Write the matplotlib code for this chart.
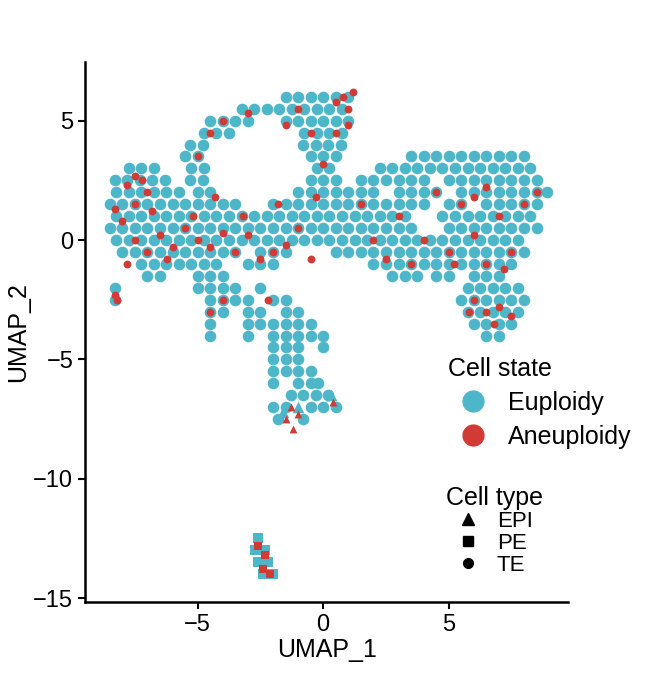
import matplotlib
matplotlib.use("Agg")
import matplotlib.pyplot as plt
from matplotlib.lines import Line2D

plt.rcParams["font.family"] = "Liberation Sans"

# Euploid TE cells: rows of (y, [x values])
euploid_rows = [
    (6.0, [-1.5, -1, -0.5, 0, 0.5, 1]),
    (5.5, [-3.25, -2.75, -2.25, -1.75, -1.25, -0.75, -0.25, 0.25, 0.75]),
    (5.0, [-4.5, -4, -3.5, -3, -1.5, -1, -0.5, 0, 0.5, 1]),
    (4.5, [-4.75, -4.25, -3.75, -0.75, -0.25, 0.25, 0.75]),
    (4.0, [-5.3, -4.8, -0.8, -0.3, 0.2, 0.7]),
    (3.5, [-5.5, -5, -0.5, 0, 0.5, 3.5, 4, 4.5, 5, 5.5, 6, 6.5, 7, 7.5, 8]),
    (3.0, [-7.75, -7.25, -6.75, -5.25, -4.75, -0.25, 0.25, 2.25, 2.75, 3.25, 3.75, 4.25, 4.75, 5.25, 5.75, 6.25, 6.75, 7.25, 7.75, 8.25]),
    (2.5, [-8.3, -7.8, -7.3, -6.8, -6.3, -5.3, -4.8, -0.5, 0, 0.5, 1.5, 2, 2.5, 3, 3.5, 4, 5, 5.5, 6, 6.5, 7, 7.5, 8, 8.5]),
    (2.0, [-8.25, -7.75, -7.25, -6.75, -6.25, -5.75, -5, -4.5, -1, -0.5, 0, 0.5, 1, 1.5, 2, 3, 3.5, 4, 4.5, 5.5, 6, 6.5, 7, 7.5, 8, 8.5, 8.9]),
    (1.5, [-8.5, -8, -7.5, -7, -6.5, -6, -5.5, -5, -4.5, -4, -3.5, -2, -1.5, -1, -0.5, 0, 0.5, 1, 1.5, 2, 2.5, 3, 3.5, 4, 5, 5.5, 6.5, 7, 7.5, 8, 8.5]),
    (1.0, [-8.25, -7.75, -7.25, -6.75, -6.25, -5.75, -5.25, -4.75, -4.25, -3.75, -3.25, -2.75, -2.25, -1.75, -1.25, -0.75, -0.25, 0.25, 0.75, 1.25, 1.75, 2.25, 2.75, 3.25, 4.75, 5.25, 5.75, 6.25, 6.75, 7.25, 7.75, 8.25]),
    (0.5, [-8.5, -8, -7.5, -7, -6.5, -6, -5.5, -5, -4.5, -4, -3.5, -3, -2.5, -2, -1.5, -1, -0.5, 0, 0.5, 1, 1.5, 2, 2.5, 3, 3.5, 5, 5.5, 6, 6.5, 7, 7.5, 8, 8.5]),
    (0.0, [-8.25, -7.75, -7.25, -6.75, -6.25, -5.75, -5.25, -4.75, -4.25, -3.75, -3.25, -2.75, -2.25, -1.75, -1.25, -0.75, -0.25, 0.25, 0.75, 1.25, 1.75, 2.25, 2.75, 3.25, 3.75, 4.25, 4.75, 5.25, 5.75, 6.25, 6.75, 7.25, 7.75]),
    (-0.5, [-8, -7.5, -7, -6.5, -6, -5.5, -5, -4.5, -4, -3.5, -2.5, -2, -1.5, 0.5, 1, 1.5, 2, 2.5, 3, 3.5, 4, 4.5, 5, 5.5, 6, 6.5, 7, 7.5, 8]),
    (-1.0, [-7.25, -6.75, -6.25, -5.75, -5.25, -4.75, -4.25, -3, -2.5, -2, 2, 2.5, 3, 3.5, 4, 4.5, 5, 5.5, 6, 6.5, 7, 7.5]),
    (-1.5, [-7, -6.5, -5, -4.5, -4, 2.75, 3.25, 3.75, 4.5, 5, 6, 6.5, 7]),
    (-2.0, [-8.3, -5, -4.5, -4, -3.5, -2.5, 5.75, 6.25, 6.75, 7.25, 7.75]),
    (-2.5, [-8.3, -4.5, -4, -3.5, -3, -2, -1.5, 5.5, 6, 6.5, 7, 7.5, 8]),
    (-3.0, [-4.5, -4, -3, -2.5, -1.5, -1, 5.75, 6.25, 6.75, 7.25, 7.75]),
    (-3.5, [-4.5, -3, -2.5, -2, -1.5, -1, -0.5, 6, 6.5, 7, 7.5]),
    (-4.0, [-4.5, -3, -2, -1.5, -1, -0.5, 0, 6.5, 7]),
    (-4.5, [-2, -1.5, -1, 0]),
    (-5.0, [-2, -1.5, -1]),
    (-5.5, [-2, -1.5, -1, -0.5]),
    (-6.0, [-2, -1, -0.5, -0.2]),
    (-6.5, [-1.3, -0.8, -0.3, 0.2]),
    (-7.0, [-2, -1.5, -0.5, 0, 0.5]),
    (-7.5, [-1.8, -0.8]),
]
euploid_epi_x = [-1.0, 0.3, -1.6]
euploid_epi_y = [-7.0, -6.5, -7.2]
euploid_pe_x = [-2.6, -2.7, -2.3, -2.6, -2.2, -2.4, -2.0]
euploid_pe_y = [-12.5, -13.0, -13.0, -13.5, -13.5, -14.0, -14.0]

aneu_te_x = [-7.5, -7.2, -7.8, -7.0, -8.3, -7.5, -6.8, -8.0,
             -7.5, -7.0, -6.5, -6.0, -5.5, -5.0, -4.5, -4.0, -6.2, -7.8, -5.2, -3.5, -3.0, -2.5, -2.0, -1.5, -1.0, -0.5, -1.8, -3.2, -4.3,
             -5.0, -4.5, -4.0, -3.0, -1.5, -1.0, -0.5, 0.0, 0.5, 0.8, 1.0, 1.0, 0.5, 1.2, -0.3,
             1.5, 2.0, 2.5, 3.0, 3.5, 4.0, 4.5, 5.0, 5.5, 6.0, 6.5, 6.5, 7.0, 7.5, 8.0, 8.5, 6.0, 7.2, 5.2,
             6.0, 6.5, 7.0, 7.5, 6.8, 5.8,
             -4.5, -4.0, -2.2, -8.3, -8.2]
aneu_te_y = [2.7, 2.5, 2.3, 2.0, 1.3, 1.5, 1.2, 0.8,
             0.0, -0.5, 0.2, -0.3, 0.5, 0.0, -0.3, 0.3, -0.8, -1.0, 1.0, -0.5, 0.2, -0.8, -0.5, -0.2, 0.5, -0.8, 1.5, 1.0, 1.8,
             3.5, 4.5, 5.0, 5.3, 4.8, 5.5, 4.5, 3.2, 5.8, 6.0, 5.5, 4.8, 4.5, 6.2, 1.8,
             1.5, 0.0, -0.8, 1.0, -1.0, 0.0, 2.0, -0.5, 1.5, 0.2, -1.0, 2.2, 1.0, -0.5, 1.5, 2.0, 1.8, -1.2, -1.0,
             -2.5, -3.0, -2.8, -3.2, -3.5, -3.0,
             -3.0, -2.5, -2.5, -2.3, -2.5]
aneu_epi_x = [-1.3, -1.0, -1.5, 0.4, -1.2]
aneu_epi_y = [-7.0, -7.3, -7.5, -6.8, -7.9]
aneu_pe_x = [-2.6, -2.3, -2.4, -2.1]
aneu_pe_y = [-12.8, -13.2, -13.8, -14.0]

BLUE = "#4db6c8"
RED = "#d03b35"

fig = plt.figure(figsize=(6.45, 6.83), dpi=100)
ax = fig.add_axes([0.132, 0.119, 0.749, 0.79])

ex = [x for y, xs in euploid_rows for x in xs]
ey = [y for y, xs in euploid_rows for x in xs]
S = 70
ax.scatter(ex, ey, s=S, c=BLUE, marker="o", linewidths=0)
ax.scatter(euploid_epi_x, euploid_epi_y, s=S, c=BLUE, marker="^", linewidths=0)
ax.scatter(euploid_pe_x, euploid_pe_y, s=50, c=BLUE, marker="s", linewidths=0)
ax.scatter(aneu_te_x, aneu_te_y, s=32, c=RED, marker="o", linewidths=0)
ax.scatter(aneu_epi_x, aneu_epi_y, s=32, c=RED, marker="^", linewidths=0)
ax.scatter(aneu_pe_x, aneu_pe_y, s=28, c=RED, marker="s", linewidths=0)

ax.set_xlim(-9.48, 9.76)
ax.set_ylim(-15.15, 7.45)
ax.set_xticks([-5, 0, 5])
ax.set_yticks([5, 0, -5, -10, -15])
ax.set_yticklabels(["5", "0", "\u22125", "\u221210", "\u221215"])
ax.set_xticklabels(["\u22125", "0", "5"])
for s in ["top", "right"]:
    ax.spines[s].set_visible(False)
for s in ["left", "bottom"]:
    ax.spines[s].set_linewidth(1.8)
ax.tick_params(labelsize=17, width=1.5, length=5)
ax.set_xlabel("UMAP_1", fontsize=18, labelpad=2)
ax.set_ylabel("UMAP_2", fontsize=18, labelpad=2)

h1 = [Line2D([], [], marker="o", ls="", color=BLUE, markersize=15),
      Line2D([], [], marker="o", ls="", color=RED, markersize=15)]
leg1 = fig.legend(h1, ["Euploidy", "Aneuploidy"], title="Cell state", loc="upper left",
                  bbox_to_anchor=(0.66, 0.51), frameon=False, fontsize=18,
                  title_fontsize=18, handletextpad=0.4, labelspacing=0.4)
leg1._legend_box.align = "left"
h2 = [Line2D([], [], marker="^", ls="", color="black", markersize=8),
      Line2D([], [], marker="s", ls="", color="black", markersize=7),
      Line2D([], [], marker="o", ls="", color="black", markersize=7)]
leg2 = fig.legend(h2, ["EPI", "PE", "TE"], title="Cell type", loc="upper left",
                  bbox_to_anchor=(0.66, 0.318), frameon=False, fontsize=16,
                  title_fontsize=18, handletextpad=0.3, labelspacing=0.05)
leg2._legend_box.align = "left"

fig.savefig("out.png", dpi=100)
